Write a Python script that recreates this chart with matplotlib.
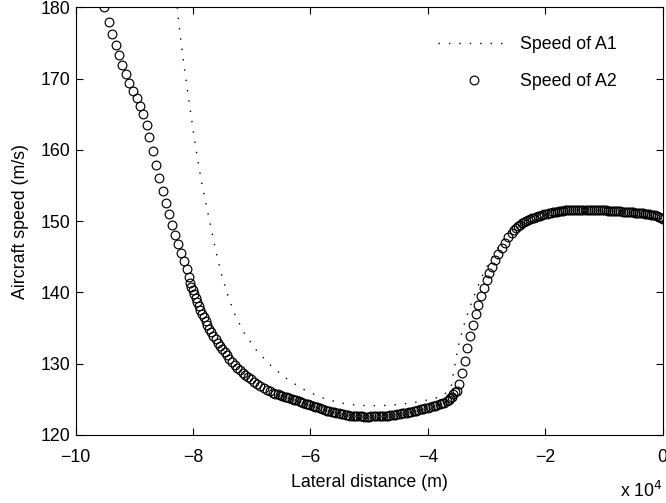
import matplotlib

matplotlib.use("Agg")
import matplotlib.pyplot as plt
from matplotlib.ticker import FuncFormatter

plt.rcParams["font.family"] = ["Liberation Sans", "DejaVu Sans"]

# Speed of A2 (circles): lateral distance in units of 1e4 m, speed in m/s
a2_x = [
    -9.513, -9.441, -9.382, -9.322, -9.262, -9.203, -9.148, -9.089, -9.027, -8.961,
    -8.908, -8.853, -8.790, -8.743, -8.683, -8.627, -8.576, -8.521, -8.467, -8.416,
    -8.365, -8.308, -8.257, -8.211, -8.160, -8.109, -8.075,
    -8.053, -8.030, -8.007, -7.983, -7.958, -7.932, -7.905, -7.877, -7.848, -7.818,
    -7.787, -7.755, -7.722, -7.688, -7.653, -7.617, -7.580, -7.542, -7.503, -7.463,
    -7.422, -7.380, -7.337, -7.293, -7.248, -7.202, -7.155, -7.107, -7.058, -7.008,
    -6.957, -6.905, -6.852, -6.798, -6.743, -6.690,
    -6.64, -6.60, -6.56, -6.52, -6.48, -6.44, -6.40, -6.36, -6.32, -6.28,
    -6.24, -6.20, -6.16, -6.12, -6.08, -6.04, -6.00, -5.96, -5.92, -5.88,
    -5.84, -5.80, -5.76, -5.72, -5.68, -5.64, -5.60, -5.56, -5.52, -5.48,
    -5.44, -5.40, -5.36, -5.32, -5.28, -5.24, -5.20, -5.16, -5.12, -5.08,
    -5.04, -5.00, -4.96, -4.92, -4.88, -4.84, -4.80, -4.76, -4.72, -4.68,
    -4.64, -4.60, -4.56, -4.52, -4.48, -4.44, -4.40, -4.36, -4.32, -4.28,
    -4.24, -4.20, -4.16, -4.12, -4.08, -4.04, -4.00, -3.96, -3.92, -3.88,
    -3.84, -3.80, -3.76, -3.72, -3.68, -3.645, -3.615, -3.59, -3.565, -3.54,
    -3.509, -3.465, -3.424, -3.368, -3.329, -3.283, -3.237, -3.186, -3.141, -3.095,
    -3.044, -2.998, -2.954, -2.903, -2.857, -2.801, -2.743, -2.687, -2.630, -2.572,
    -2.537, -2.502, -2.467, -2.432, -2.397, -2.362, -2.327, -2.292, -2.257, -2.222,
    -2.187, -2.152, -2.117, -2.082, -2.047, -2.012, -1.977, -1.942, -1.907, -1.872,
    -1.837, -1.802, -1.767, -1.732, -1.697, -1.662, -1.627, -1.592, -1.557, -1.522,
    -1.487, -1.452, -1.417, -1.382, -1.347, -1.312, -1.277, -1.242, -1.207, -1.172,
    -1.137, -1.102, -1.067, -1.032, -0.997, -0.962, -0.927, -0.892, -0.857, -0.822,
    -0.787, -0.752, -0.717, -0.682, -0.647, -0.612, -0.577, -0.542, -0.507, -0.472,
    -0.437, -0.402, -0.367, -0.332, -0.297, -0.262, -0.227, -0.192, -0.157, -0.122,
    -0.087, -0.052, -0.020, 0.000,
]
a2_speed = [
    180.00, 177.94, 176.26, 174.76, 173.24, 171.84, 170.58, 169.42, 168.31, 167.24,
    166.16, 165.00, 163.43, 161.79, 159.85, 157.93, 156.03, 154.25, 152.61, 151.02,
    149.48, 148.08, 146.77, 145.60, 144.43, 143.27, 142.23,
    141.31, 140.80, 140.30, 139.76, 139.22, 138.70, 138.15, 137.60, 137.02, 136.50,
    135.95, 135.42, 134.90, 134.42, 133.95, 133.45, 132.95, 132.50, 132.06, 131.62,
    131.17, 130.70, 130.25, 129.85, 129.45, 129.08, 128.75, 128.42, 128.10, 127.80,
    127.50, 127.22, 126.94, 126.66, 126.38, 126.11,
    125.93, 125.82, 125.71, 125.60, 125.50, 125.39, 125.28, 125.17, 125.06, 124.95,
    124.84, 124.73, 124.62, 124.51, 124.40, 124.30, 124.19, 124.08, 123.97, 123.86,
    123.75, 123.64, 123.53, 123.43, 123.33, 123.24, 123.16, 123.09, 123.02, 122.95,
    122.88, 122.81, 122.76, 122.72, 122.69, 122.66, 122.63, 122.61, 122.60, 122.59,
    122.59, 122.59, 122.60, 122.60, 122.61, 122.62, 122.64, 122.66, 122.69, 122.72,
    122.76, 122.81, 122.86, 122.92, 122.97, 123.03, 123.09, 123.15, 123.22, 123.29,
    123.36, 123.43, 123.51, 123.58, 123.66, 123.75, 123.83, 123.92, 124.01, 124.10,
    124.20, 124.31, 124.42, 124.55, 124.70, 124.90, 125.15, 125.40, 125.70, 126.00,
    126.11, 127.19, 128.69, 130.41, 132.19, 133.82, 135.46, 136.96, 138.26, 139.53,
    140.69, 141.77, 142.71, 143.63, 144.57, 145.41, 146.21, 147.00, 147.76, 148.32,
    148.70, 149.00, 149.27, 149.48, 149.67, 149.84, 150.01, 150.16, 150.29, 150.40,
    150.50, 150.60, 150.71, 150.79, 150.88, 150.96, 151.03, 151.09, 151.15, 151.22,
    151.28, 151.33, 151.37, 151.42, 151.46, 151.50, 151.53, 151.55, 151.57, 151.59,
    151.60, 151.61, 151.62, 151.62, 151.62, 151.62, 151.61, 151.61, 151.60, 151.59,
    151.58, 151.57, 151.55, 151.53, 151.51, 151.50, 151.48, 151.46, 151.45, 151.43,
    151.40, 151.38, 151.36, 151.34, 151.32, 151.30, 151.27, 151.25, 151.23, 151.20,
    151.18, 151.15, 151.13, 151.10, 151.06, 151.02, 150.98, 150.93, 150.86, 150.80,
    150.72, 150.60, 150.45, 150.30,
]

# Speed of A1 (dotted line)
a1_x = [
    -8.270, -8.252, -8.211, -8.167, -8.121, -8.070, -8.019, -7.968, -7.911, -7.853,
    -7.598, -7.513, -7.411, -7.286, -7.128, -6.928, -6.690, -6.422, -6.133, -5.821,
    -5.486, -5.157, -4.816, -4.475, -4.135, -3.794, -3.652, -3.595, -3.555, -3.521,
    -3.492, -3.453, -3.407, -3.356, -3.300, -3.237, -3.169, -3.101, -3.022, -2.930,
    -2.828, -2.716, -2.630, -2.400, -2.200, -2.000, -1.700, -1.400, -1.100, -0.800,
    -0.500, -0.250, 0.000,
]
a1_speed = [
    180.00, 178.46, 175.51, 172.61, 169.81, 166.77, 163.96, 161.02, 158.13, 155.33,
    145.27, 142.47, 139.67, 136.86, 134.30, 131.96, 129.86, 127.99, 126.45, 125.27,
    124.48, 124.15, 124.10, 124.29, 124.67, 125.33, 126.11, 127.05, 129.15, 130.55,
    131.96, 133.36, 134.76, 136.16, 137.56, 138.97, 140.37, 141.77, 143.17, 144.57,
    145.97, 147.37, 148.32, 149.70, 150.45, 151.00, 151.48, 151.62, 151.57, 151.42,
    151.23, 151.00, 150.30,
]

x_ticks = [-10, -8, -6, -4, -2, 0]
y_ticks = [120, 130, 140, 150, 160, 170, 180]

fs = 12.8

fig = plt.figure(figsize=(6.66, 5.03), dpi=100)
ax = fig.add_axes([0.1137, 0.1352, 0.8811, 0.8503])

ax.plot([v * 1e4 for v in a1_x], a1_speed, color="black", linewidth=1.0,
        linestyle=(0, (1, 6.5)), label="Speed of A1")
ax.plot([v * 1e4 for v in a2_x], a2_speed, linestyle="none", marker="o",
        markersize=6.3, markerfacecolor="none", markeredgecolor="black",
        markeredgewidth=0.85, label="Speed of A2")

ax.set_xlim(-1e5, 0)
ax.set_ylim(120, 180)
ax.set_xticks([t * 1e4 for t in x_ticks])
ax.xaxis.set_major_formatter(FuncFormatter(lambda v, p: f"{v / 1e4:g}".replace("-", "\u2212")))
ax.set_yticks(y_ticks)
ax.tick_params(direction="in", length=5, width=0.8, top=True, right=True,
               labelsize=fs)
ax.tick_params(axis="x", pad=10)
ax.tick_params(axis="y", pad=4)
for s in ax.spines.values():
    s.set_linewidth(0.8)

ax.set_xlabel("Lateral distance (m)", fontsize=fs, labelpad=6)
ax.set_ylabel("Aircraft speed (m/s)", fontsize=fs, labelpad=8)
fig.text(0.995, 0.004, "x 10$^{4}$", fontsize=fs, ha="right", va="bottom")

ax.legend(loc="upper left", bbox_to_anchor=(0.617, 0.933), frameon=False,
          fontsize=fs, handlelength=4.05, handletextpad=0.55, labelspacing=1.15,
          numpoints=1, borderaxespad=0, borderpad=0)

fig.savefig("out.png", dpi=100)
